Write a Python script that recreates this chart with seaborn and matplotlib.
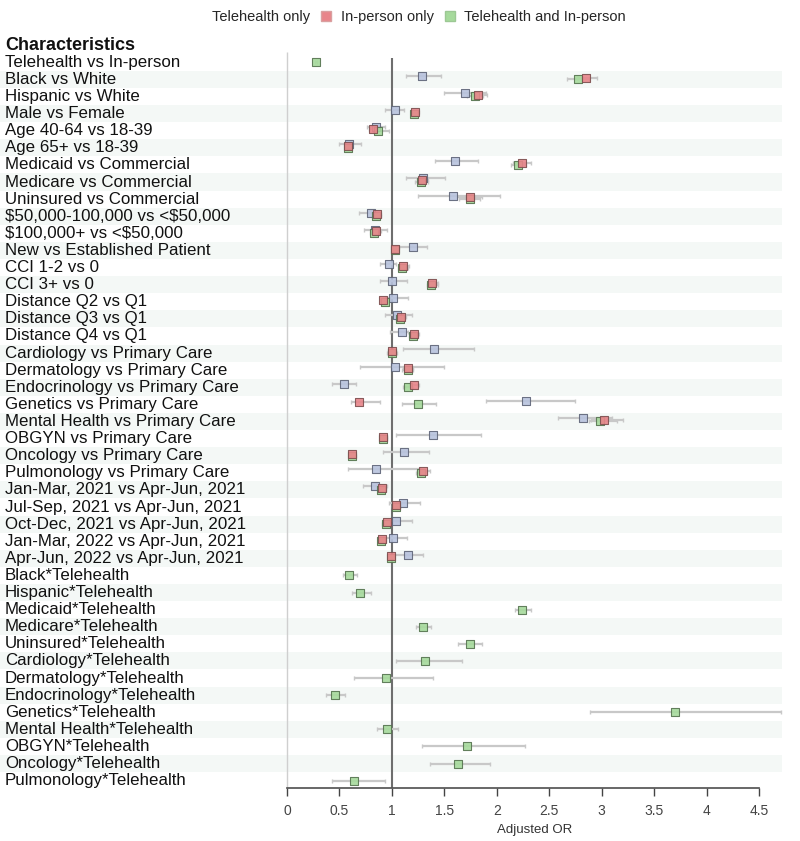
import numpy as np
import pandas as pd
import seaborn as sns
import matplotlib.pyplot as plt
from matplotlib.lines import Line2D

# -----------------------------
# Data
# -----------------------------
labels = [
    "Telehealth vs In-person", "Black vs White", "Hispanic vs White", "Male vs Female",
    "Age 40-64 vs 18-39", "Age 65+ vs 18-39", "Medicaid vs Commercial",
    "Medicare vs Commercial", "Uninsured vs Commercial", "$50,000-100,000 vs <$50,000",
    "$100,000+ vs <$50,000", "New vs Established Patient", "CCI 1-2 vs 0", "CCI 3+ vs 0",
    "Distance Q2 vs Q1", "Distance Q3 vs Q1", "Distance Q4 vs Q1",
    "Cardiology vs Primary Care", "Dermatology vs Primary Care",
    "Endocrinology vs Primary Care", "Genetics vs Primary Care",
    "Mental Health vs Primary Care", "OBGYN vs Primary Care", "Oncology vs Primary Care",
    "Pulmonology vs Primary Care", "Jan-Mar, 2021 vs Apr-Jun, 2021",
    "Jul-Sep, 2021 vs Apr-Jun, 2021", "Oct-Dec, 2021 vs Apr-Jun, 2021",
    "Jan-Mar, 2022 vs Apr-Jun, 2021", "Apr-Jun, 2022 vs Apr-Jun, 2021",
    "Black*Telehealth", "Hispanic*Telehealth", "Medicaid*Telehealth", "Medicare*Telehealth",
    "Uninsured*Telehealth", "Cardiology*Telehealth", "Dermatology*Telehealth",
    "Endocrinology*Telehealth", "Genetics*Telehealth", "Mental Health*Telehealth",
    "OBGYN*Telehealth", "Oncology*Telehealth", "Pulmonology*Telehealth",
]

nan = np.nan
n_inter = 13  # interaction rows only have the combined group

tele_or = [nan, 1.29, 1.70, 1.03, 0.845, 0.59, 1.60, 1.30, 1.58, 0.80, 0.84, 1.20, 0.97, 1.00,
           1.01, 1.05, 1.095, 1.40, 1.03, 0.54, 2.28, 2.82, 1.39, 1.12, 0.845, 0.835, 1.11,
           1.04, 1.01, 1.15] + [nan] * n_inter
tele_lo = [nan, 1.13, 1.50, 0.93, 0.76, 0.50, 1.41, 1.13, 1.25, 0.69, 0.73, 1.07, 0.89, 0.89,
           0.93, 0.93, 0.98, 1.11, 0.70, 0.43, 1.90, 2.58, 1.04, 0.92, 0.58, 0.72, 0.97,
           0.92, 0.93, 1.01] + [nan] * n_inter
tele_hi = [nan, 1.47, 1.90, 1.12, 0.93, 0.71, 1.82, 1.51, 2.03, 0.88, 0.955, 1.33, 1.04, 1.14,
           1.15, 1.19, 1.15, 1.78, 1.50, 0.66, 2.75, 3.10, 1.85, 1.35, 1.27, 0.955, 1.27,
           1.19, 1.14, 1.30] + [nan] * n_inter

inp_or = [nan, 2.85, 1.82, 1.225, 0.82, 0.58, 2.24, 1.29, 1.74, 0.86, 0.85, 1.03, 1.11, 1.38,
          0.92, 1.085, 1.21, 1.00, 1.155, 1.21, 0.69, 3.02, 0.92, 0.62, 1.30, 0.905, 1.04,
          0.95, 0.91, 0.99] + [nan] * n_inter
inp_lo = [nan, 2.76, 1.75, 1.19, 0.78, 0.55, 2.15, 1.24, 1.62, 0.82, 0.80, 1.00, 1.07, 1.34,
          0.89, 1.04, 1.17, 0.96, 1.11, 1.16, 0.61, 2.90, 0.89, 0.59, 1.24, 0.87, 1.00,
          0.92, 0.88, 0.96] + [nan] * n_inter
inp_hi = [nan, 2.96, 1.91, 1.26, 0.86, 0.62, 2.33, 1.34, 1.86, 0.90, 0.90, 1.06, 1.165, 1.44,
          0.95, 1.13, 1.26, 1.04, 1.20, 1.26, 0.89, 3.20, 0.95, 0.65, 1.36, 0.94, 1.08,
          0.98, 0.94, 1.02] + [nan] * n_inter

both_or = [0.28, 2.77, 1.79, 1.21, 0.87, 0.58, 2.20, 1.28, 1.74, 0.85, 0.83, 1.03, 1.10, 1.37,
           0.93, 1.08, 1.20, 1.00, 1.15, 1.15, 1.25, 2.98, 0.92, 0.62, 1.28, 0.90, 1.04,
           0.94, 0.90, 0.99, 0.59, 0.70, 2.24, 1.30, 1.74, 1.32, 0.94, 0.46, 3.70, 0.955,
           1.72, 1.63, 0.635]
both_lo = [0.27, 2.67, 1.72, 1.18, 0.82, 0.55, 2.14, 1.22, 1.64, 0.81, 0.79, 1.00, 1.06, 1.33,
           0.90, 1.04, 1.16, 0.95, 1.10, 1.11, 1.10, 2.88, 0.89, 0.59, 1.23, 0.87, 1.00,
           0.91, 0.87, 0.96, 0.53, 0.62, 2.17, 1.23, 1.63, 1.04, 0.64, 0.37, 2.89, 0.86,
           1.29, 1.36, 0.43]
both_hi = [0.29, 2.88, 1.87, 1.25, 0.975, 0.62, 2.28, 1.34, 1.84, 0.90, 0.88, 1.06, 1.15, 1.44,
           0.96, 1.12, 1.25, 1.05, 1.20, 1.20, 1.42, 3.15, 0.95, 0.66, 1.33, 0.94, 1.08,
           0.98, 0.94, 1.02, 0.67, 0.80, 2.33, 1.37, 1.86, 1.67, 1.39, 0.55, 4.71, 1.06,
           2.27, 1.94, 0.93]

groups = ["Telehealth only", "In-person only", "Telehealth and In-person"]

frames = []
for g, o, lo, hi in zip(groups,
                        [tele_or, inp_or, both_or],
                        [tele_lo, inp_lo, both_lo],
                        [tele_hi, inp_hi, both_hi]):
    frames.append(pd.DataFrame({"row": np.arange(len(labels)), "group": g,
                                "OR": o, "lo": lo, "hi": hi}))
df = pd.concat(frames, ignore_index=True).dropna(subset=["OR"])

offsets = {"Telehealth only": -0.21, "In-person only": -0.11, "Telehealth and In-person": 0.0}
df["ypos"] = df["row"] + df["group"].map(offsets)

face = {"Telehealth only": "#b8c3de", "In-person only": "#e8858a",
        "Telehealth and In-person": "#a6da9c"}
edge = {"Telehealth only": "#5f6578", "In-person only": "#7d4f4f",
        "Telehealth and In-person": "#55734f"}

# -----------------------------
# Plot
# -----------------------------
sns.set_theme(style="white")
plt.rcParams["font.family"] = ["Liberation Sans", "DejaVu Sans"]
plt.rcParams["text.parse_math"] = False

fig = plt.figure(figsize=(8, 8.41), dpi=100)
ax = fig.add_axes([0.0, 0.0627, 0.9775, 0.8957])

n = len(labels)
xmin, xmax = -2.736, 4.719
ax.set_xlim(xmin, xmax)
ax.set_ylim(n - 1 + 0.444, -1.596)

# zebra stripes
for i in range(1, n, 2):
    ax.axhspan(i - 0.5, i + 0.5, color="#f4f8f6", zorder=0, lw=0)

# reference lines
ax.vlines(0, -0.6, n - 1 + 0.444, color="#cfcfcf", lw=1, zorder=1)
ax.vlines(1, -0.25, n - 1 + 0.444, color="#6e6e6e", lw=1.5, zorder=1)

# confidence intervals
ax.errorbar(df["OR"], df["ypos"],
            xerr=[df["OR"] - df["lo"], df["hi"] - df["OR"]],
            fmt="none", ecolor="#c8c8c8", elinewidth=1.6, capsize=1.5, capthick=1,
            zorder=2)

# point estimates
for g in ["Telehealth only", "Telehealth and In-person", "In-person only"]:
    sub = df[df["group"] == g]
    sns.scatterplot(data=sub, x="OR", y="ypos", marker="s", s=38, color=face[g],
                    edgecolor=edge[g], linewidth=0.8, alpha=0.9, ax=ax, zorder=3,
                    legend=False)

# row labels
ytrans = ax.get_yaxis_transform()
ax.text(0.0064, -1, "Characteristics", transform=ytrans, ha="left", va="center",
        fontsize=13, fontweight="bold", color="#111111")
for i, lab in enumerate(labels):
    ax.text(0.0064, i, lab, transform=ytrans, ha="left", va="center",
            fontsize=12.2, color="#111111")

ax.set_yticks([])
ticks = np.arange(0, 4.51, 0.5)
ax.set_xticks(ticks)
ax.set_xticklabels([f"{t:g}" for t in ticks])
ax.tick_params(axis="x", length=6, width=1, colors="#444444", labelsize=10,
               pad=5, bottom=True)
for s in ["left", "top", "right"]:
    ax.spines[s].set_visible(False)
ax.spines["bottom"].set_bounds(0, 4.5)
ax.spines["bottom"].set_color("#555555")
ax.set_xlabel("")
ax.set_ylabel("")
ax.text((0 + xmax) / 2, -0.047, "Adjusted OR", transform=ax.get_xaxis_transform(),
        ha="center", va="top", fontsize=9.5, color="#333333")

# legend
handles = [
    Line2D([], [], marker="s", linestyle="none", markerfacecolor="none",
           markeredgecolor="none"),
    Line2D([], [], marker="s", linestyle="none", markersize=7,
           markerfacecolor=face["In-person only"], markeredgecolor="#d9a0a0"),
    Line2D([], [], marker="s", linestyle="none", markersize=7,
           markerfacecolor=face["Telehealth and In-person"], markeredgecolor="#9cc894"),
]
fig.legend(handles, groups, loc="upper center", bbox_to_anchor=(0.51, 1.004), ncol=3,
           frameon=False, fontsize=10.5, handlelength=1.0, handletextpad=0.5,
           columnspacing=0.6)

fig.savefig("out.png", dpi=100)
